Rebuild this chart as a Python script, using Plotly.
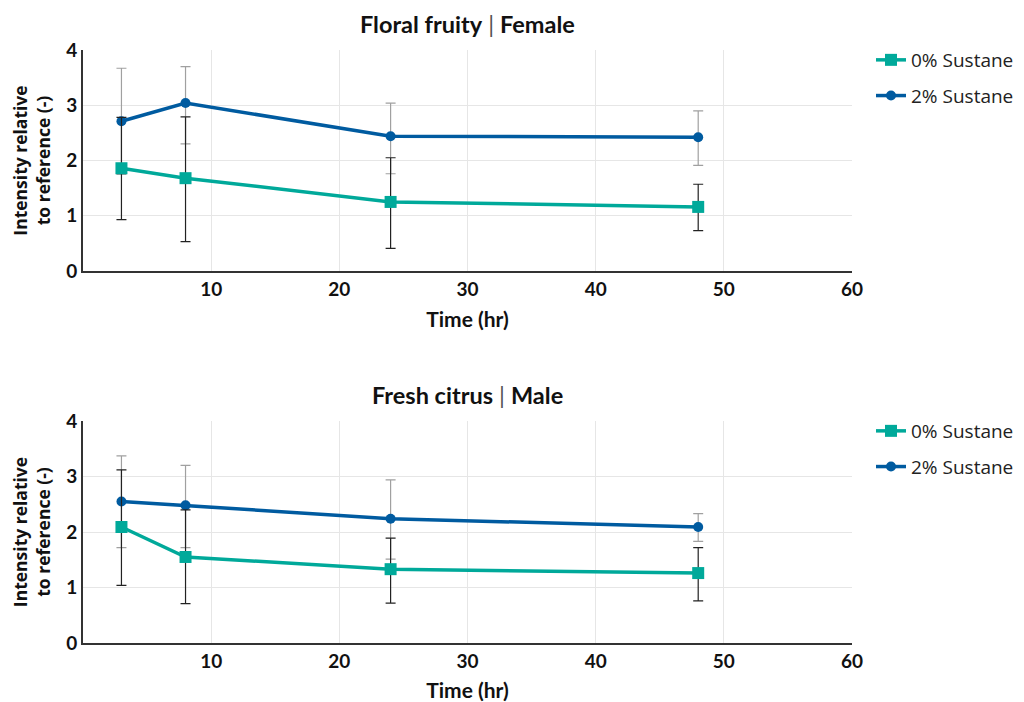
import plotly.graph_objects as go

# ---- data ----
time_hr = [3, 8, 24, 48]

top_title = "Floral fruity"
top_sub = "Female"
top_s0 = [1.86, 1.68, 1.25, 1.16]
top_s0_up = [0.92, 1.11, 0.80, 0.41]
top_s0_dn = [0.93, 1.15, 0.84, 0.43]
top_s2 = [2.71, 3.04, 2.44, 2.42]
top_s2_up = [0.96, 0.66, 0.60, 0.48]
top_s2_dn = [0.96, 0.74, 0.68, 0.51]

bot_title = "Fresh citrus"
bot_sub = "Male"
bot_s0 = [2.09, 1.55, 1.33, 1.26]
bot_s0_up = [1.03, 0.85, 0.56, 0.46]
bot_s0_dn = [1.05, 0.84, 0.61, 0.50]
bot_s2 = [2.55, 2.48, 2.24, 2.09]
bot_s2_up = [0.82, 0.72, 0.70, 0.24]
bot_s2_dn = [0.83, 0.76, 0.73, 0.26]

series_names = ["0% Sustane", "2% Sustane"]
x_ticks = [10, 20, 30, 40, 50, 60]
y_ticks = [0, 1, 2, 3, 4]

TEAL = "#00A99A"
BLUE = "#005BA0"
FONT = "Lato"
FONT2 = "Open Sans"

W, H = 1016, 694

fig = go.Figure()

def add_panel(xa, ya, leg, s0, s0u, s0d, s2, s2u, s2d):
    fig.add_trace(go.Scatter(
        x=time_hr, y=s2, name=series_names[1], mode="lines+markers",
        xaxis=xa, yaxis=ya, legend=leg, legendgroup=leg + "b", legendrank=2,
        line=dict(color=BLUE, width=3.5),
        marker=dict(symbol="circle", size=10, color=BLUE),
        error_y=dict(type="data", array=s2u, arrayminus=s2d, color="#A0A0A0",
                     thickness=1.2, width=5),
    ))
    fig.add_trace(go.Scatter(
        x=time_hr, y=s0, name=series_names[0], mode="lines+markers",
        xaxis=xa, yaxis=ya, legend=leg, legendgroup=leg + "a", legendrank=1,
        line=dict(color=TEAL, width=3.5),
        marker=dict(symbol="square", size=12, color=TEAL),
        error_y=dict(type="data", array=s0u, arrayminus=s0d, color="#222222",
                     thickness=1.2, width=5),
    ))

add_panel("x", "y", "legend", top_s0, top_s0_up, top_s0_dn, top_s2, top_s2_up, top_s2_dn)
add_panel("x2", "y2", "legend2", bot_s0, bot_s0_up, bot_s0_dn, bot_s2, bot_s2_up, bot_s2_dn)

xdom = [75 / W, 844 / W]
ydom_top = [1 - 263 / H, 1 - 42 / H]
ydom_bot = [1 - 635 / H, 1 - 413 / H]

axis_common = dict(
    showline=True, linecolor="#333333", linewidth=2, automargin=False,
    showgrid=True, gridcolor="#E6E6E6", gridwidth=1,
    zeroline=False, ticks="", tickfont=dict(family=FONT, size=19, color="#111111", weight="bold"),
)

xt = dict(range=[0, 60], tickvals=x_ticks, **axis_common,
          title=dict(text="<b>Time (hr)</b>", font=dict(family=FONT, size=21, color="#111111"), standoff=14))
yt = dict(range=[0, 4], tickvals=y_ticks, **axis_common,
          title=dict(text="<b>Intensity relative<br>to reference (-)</b>",
                     font=dict(family=FONT2, size=17.5, color="#111111"), standoff=17))

leg_font = dict(family=FONT2, size=19, color="#222222")

fig.update_layout(
    width=W, height=H,
    margin=dict(l=0, r=0, t=0, b=0, autoexpand=False),
    plot_bgcolor="white", paper_bgcolor="white",
    font=dict(family=FONT, color="#111111"),
    xaxis=dict(domain=xdom, anchor="y", **xt),
    yaxis=dict(domain=ydom_top, anchor="x", **yt),
    xaxis2=dict(domain=xdom, anchor="y2", **xt),
    yaxis2=dict(domain=ydom_bot, anchor="x2", **yt),
    legend=dict(x=863 / W, y=1 - 33 / H, xanchor="left", yanchor="top",
                font=leg_font, tracegroupgap=8, bgcolor="rgba(0,0,0,0)"),
    legend2=dict(x=863 / W, y=1 - 404 / H, xanchor="left", yanchor="top",
                 font=leg_font, tracegroupgap=8, bgcolor="rgba(0,0,0,0)"),
    showlegend=True,
)

for title, sub, ypx in [(top_title, top_sub, 0), (bot_title, bot_sub, 371)]:
    fig.add_annotation(
        x=(xdom[0] + xdom[1]) / 2, y=1 - ypx / H, xref="paper", yref="paper",
        text=f"<b>{title}</b> <span style='color:#555555'>|</span> <b>{sub}</b>",
        showarrow=False, font=dict(family=FONT, size=23.5, color="#111111"),
        xanchor="center", yanchor="top",
    )

fig.write_html("out.html")
